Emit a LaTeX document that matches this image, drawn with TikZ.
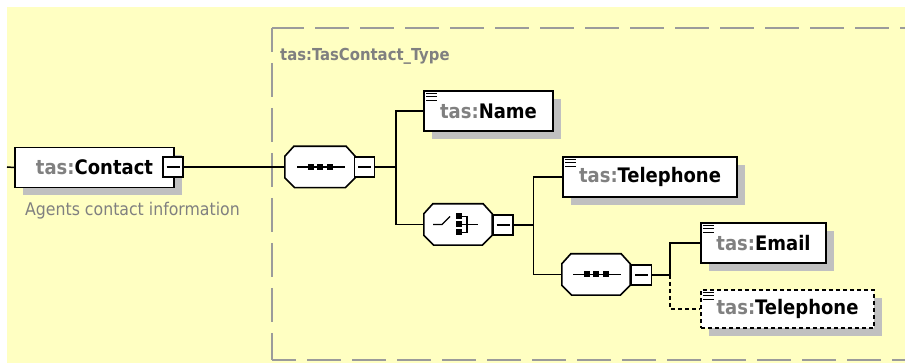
\documentclass[tikz,border=0pt]{standalone}
\usepackage{fontspec}
\setmainfont{DejaVu Sans Condensed}
\usetikzlibrary{shadows,calc}
\definecolor{bgyellow}{RGB}{255,255,194}
\definecolor{shadowgray}{RGB}{192,192,192}
\definecolor{nsgray}{RGB}{128,128,128}
\definecolor{boxgray}{RGB}{155,155,155}
\newcommand\tasname[1]{{\color{nsgray}tas:}#1}
\tikzset{
  shad/.style={general shadow={fill=shadowgray, shadow xshift=8pt, shadow yshift=-8pt}},
  elem/.style={draw=black, line width=1.6pt, fill=white, minimum height=40pt, inner sep=0pt,
    font=\bfseries\fontsize{20}{23}\selectfont, shad},
  comp/.style={rectangle, minimum width=68pt, minimum height=41pt, inner sep=0pt},
  octline/.style={draw=black, line width=1.6pt, fill=white, line join=miter},
  minusbox/.style={draw=black, line width=1.4pt, fill=white, minimum width=20pt, minimum height=20pt, inner sep=0pt,
    path picture={\draw[line width=1.3pt] ([xshift=3.5pt]path picture bounding box.west) -- ([xshift=-3.5pt]path picture bounding box.east);}},
  conn/.style={draw=black, line width=1.5pt},
  optconn/.style={conn, dash pattern=on 4pt off 3pt},
  boxline/.style={draw=boxgray, line width=2pt, dash pattern=on 34pt off 11pt},
}
\newcommand\octpath[1]{([shift={(9,0)}]#1.north west) -- ([shift={(-9,0)}]#1.north east) -- ([shift={(0,10)}]#1.north east) -- ([shift={(0,-10)}]#1.south east) -- ([shift={(-10,0)}]#1.south east) -- ([shift={(10,0)}]#1.south west) -- ([shift={(0,-10)}]#1.south west) -- ([shift={(0,10)}]#1.north west) -- cycle}
\newcommand\octagon[1]{%
  \fill[shadowgray, shift={(8,8)}] \octpath{#1};
  \filldraw[octline] \octpath{#1};}
\newcommand\docicon[1]{\foreach \d in {3,6.5,10}{\draw[line width=1.2pt] ([shift={(3,\d)}]#1.north west) -- ++(11,0);}}
\newcommand\seqicon[1]{%
  \draw[line width=1.3pt] ([xshift=-23pt]#1.center) -- ([xshift=25pt]#1.center);
  \foreach \dx in {-9.5,0,9.5}{\fill ([shift={(\dx-3,-3)}]#1.center) rectangle ([shift={(\dx+3,3)}]#1.center);}}
\newcommand\choiceicon[1]{%
  \draw[line width=1.3pt] ([shift={(-25,0)}]#1.center) -- ([shift={(-16,0)}]#1.center) -- ([shift={(-8,-8)}]#1.center);
  \foreach \dy in {-8,0,8}{\fill ([shift={(-2,\dy-3)}]#1.center) rectangle ([shift={(4,\dy+3)}]#1.center);
    \draw[line width=1.3pt] ([shift={(4,\dy)}]#1.center) -- ([shift={(9,\dy)}]#1.center);}
  \draw[line width=1.3pt] ([shift={(9,-8.6)}]#1.center) -- ([shift={(9,8.6)}]#1.center);
  \draw[line width=1.3pt] ([shift={(9,0)}]#1.center) -- ([shift={(20,0)}]#1.center);}
\begin{document}
\begin{tikzpicture}[x=1pt,y=-1pt]
\useasboundingbox (0,0) rectangle (905,363);
\fill[bgyellow] (7,7) rectangle (905,363);
% complex type frame
\draw[boxline, dash phase=2pt] (272,28) -- (912,28);
\draw[boxline, dash phase=10pt] (272,28) -- (272,360);
\draw[boxline, dash phase=10pt] (272,360) -- (912,360);
\node[anchor=west, inner sep=0pt, text=nsgray, font=\bfseries\fontsize{16.5}{20}\selectfont] (title) at (280,56) {tas:TasContact\_Type};
% element Contact
\node[elem, minimum width=159pt] (contact) at (94.5,167.5) {\tasname{Contact}};
\node[anchor=west, inner sep=0pt, text=nsgray, font=\fontsize{17.5}{20}\selectfont] (desc) at (25,211) {Agents contact information};
\node[minusbox] (m0) at (173,167) {};
% sequence 1
\node[comp, minimum width=70pt] (seq1) at (320,167) {};
\octagon{seq1}
\seqicon{seq1}
\node[minusbox] (m1) at (364.5,167) {};
% Name
\node[elem, minimum width=129pt] (name) at (488.5,111) {\tasname{Name}};
\docicon{name}
% choice
\node[comp] (choice) at (458,224.5) {};
\octagon{choice}
\choiceicon{choice}
\node[minusbox] (m2) at (503,225) {};
% Telephone
\node[elem, minimum width=174pt] (tel) at (650,177) {\tasname{Telephone}};
\docicon{tel}
% sequence 2
\node[comp] (seq2) at (596,274.5) {};
\octagon{seq2}
\seqicon{seq2}
\node[minusbox] (m3) at (641.5,275) {};
% Email
\node[elem, minimum width=125pt] (email) at (763.5,243) {\tasname{Email}};
\docicon{email}
% Telephone optional
\node[elem, minimum width=173pt, minimum height=38pt, dash pattern=on 4pt off 3pt] (tel2) at (787.5,309) {\tasname{Telephone}};
\docicon{tel2}
% connectors
\coordinate (in) at (7,167);
\draw[conn] (in) -- (contact.west);
\draw[conn] (m0.east) -- (seq1.west);
\draw[conn] (m1.east) -- ++(21,0) |- (name.west);
\draw[conn] (m1.east) -- ++(21,0) |- (choice.west);
\draw[conn] (m2.east) -- ++(20,0) |- (tel.west);
\draw[conn] (m2.east) -- ++(20,0) |- (seq2.west);
\draw[conn] (m3.east) -- ++(18,0) |- (email.west);
\draw[optconn] ($(m3.east)+(18,0)$) |- (tel2.west);
\end{tikzpicture}
\end{document}
